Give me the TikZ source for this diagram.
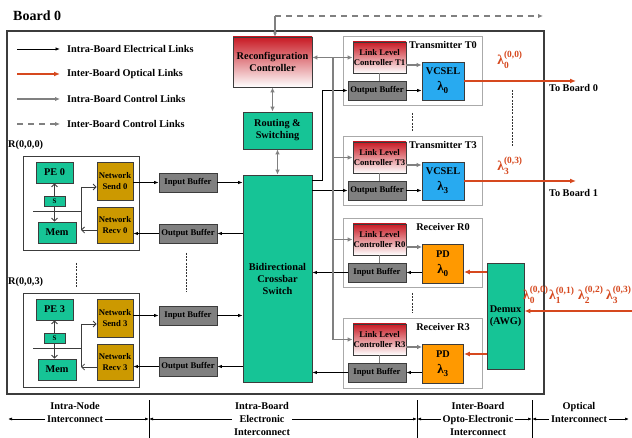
\documentclass[tikz,border=0pt]{standalone}
\usepackage{fontspec}
\setmainfont{Liberation Serif}
\usepackage{amsmath}
\usetikzlibrary{arrows.meta}

\definecolor{pegreen}{RGB}{22,196,150}
\definecolor{nigold}{RGB}{204,153,0}
\definecolor{bufgray}{RGB}{128,128,128}
\definecolor{vcblue}{RGB}{40,170,240}
\definecolor{pdorange}{RGB}{255,153,0}
\definecolor{optred}{RGB}{214,72,30}
\definecolor{ctlgray}{RGB}{128,128,128}
\definecolor{llcred}{RGB}{200,25,35}
\definecolor{edgegray}{RGB}{60,60,60}
\definecolor{unitgray}{RGB}{170,170,170}

\newcommand{\lam}[2]{$\text{λ}_{\text{#1}}^{\text{#2}}$}

\begin{document}
\begin{tikzpicture}[x=1pt,y=-1pt,
  every node/.style={inner sep=0pt, font=\bfseries},
  sz/.style 2 args={minimum width=#1pt, minimum height=#2pt},
  fbig/.style={font=\fontsize{10.3}{12}\selectfont\bfseries},
  fsmall/.style={font=\fontsize{8.7}{10.5}\selectfont\bfseries},
  blk/.style={draw=edgegray, line width=0.8pt, align=center},
  greenbox/.style={blk, fill=pegreen, fbig},
  goldbox/.style={blk, fill=nigold, fsmall},
  bufbox/.style={blk, fill=bufgray, fsmall},
  llcbox/.style={blk, top color=llcred, bottom color=white, fsmall},
  devbox/.style={blk, font=\fontsize{10.3}{16}\selectfont\bfseries},
  unitbox/.style={draw=unitgray, line width=1pt},
  elec/.style={draw=black, line width=0.8pt, -{Latex[length=4.5pt,width=3.5pt]}},
  ctrlline/.style={draw=ctlgray, line width=1.8pt},
  ctrl/.style={ctrlline, -{Latex[length=5pt,width=4.5pt]}},
  ctrlboth/.style={ctrlline, {Latex[length=5pt,width=4.5pt]}-{Latex[length=5pt,width=4.5pt]}},
  optl/.style={draw=optred, line width=1.7pt, -{Latex[length=6pt,width=5pt]}},
  interdash/.style={ctrl, dash pattern=on 6pt off 5pt},
  barb/.style={line width=0.8pt, draw=edgegray, -{Straight Barb[length=3pt,width=6pt]}},
  wire/.style={line width=0.8pt, draw=edgegray},
  dotsep/.style={line width=0.8pt, draw=black!80, dash pattern=on 2pt off 1.2pt},
  dim/.style={line width=0.7pt, {Latex[length=4pt,width=3pt]}-{Latex[length=4pt,width=3pt]}},
  lamlbl/.style={text=optred, font=\fontsize{13.5}{14}\selectfont\bfseries},
  zone/.style={fill=white, inner xsep=2pt, align=center, font=\fontsize{10.3}{13}\selectfont\bfseries}
]
\useasboundingbox (0,0) rectangle (632,438);
\fill[white] (0,0) rectangle (632,438);

% board frame and title
\node[font=\fontsize{14}{16}\selectfont\bfseries, anchor=base west] (title) at (13,21) {Board 0};
\draw[draw=edgegray, line width=1.2pt] (7,31) rectangle (544,394);

% legend
\node[fbig, anchor=west] (lg1) at (67,49) {Intra-Board Electrical Links};
\node[fbig, anchor=west] (lg2) at (67,74) {Inter-Board Optical Links};
\node[fbig, anchor=west] (lg3) at (67,99) {Intra-Board Control Links};
\node[fbig, anchor=west] (lg4) at (67,124) {Inter-Board Control Links};
\draw[elec] ([xshift=-50pt]lg1.west) -- ([xshift=-7pt]lg1.west);
\draw[optl] ([xshift=-50pt]lg2.west) -- ([xshift=-7pt]lg2.west);
\draw[ctrl] ([xshift=-50pt]lg3.west) -- ([xshift=-7pt]lg3.west);
\draw[interdash] ([xshift=-50pt]lg4.west) -- ([xshift=-7pt]lg4.west);

% central control and switching
\node[llcbox, fbig, sz={79}{50}] (reconf) at (272.5,62) {Reconfiguration\\Controller};
\node[greenbox, sz={69}{37}] (route) at (277.5,130.5) {Routing \&\\Switching};
\node[greenbox, sz={69}{207}] (xbar) at (277.5,278.5) {Bidirectional\\Crossbar\\Switch};
\draw[ctrlboth] (reconf.south) -- (reconf.south |- route.north);
\draw[ctrlboth] (route.south) -- (xbar.north);

% inter-board control link
\coordinate (ibtop) at (275,16);
\coordinate (ibend) at (543,16);
\draw[interdash] (ibtop) -- (ibend);
\draw[ctrl, -{Latex[length=4pt,width=4pt]}] (ibtop) -- (reconf.north -| ibtop);

% transmitters
\foreach \t/\c/\dy in {0/1/0, 3/3/100}{
  \node[unitbox, sz={139}{69}] (tx\t) at (412.5,71.5+\dy) {};
  \node[fbig] (txl\t) at (443,45+\dy) {Transmitter T\t};
  \node[llcbox, sz={53}{31}] (llct\t) at (379.5,57.5+\dy) {Link Level\\Controller T\c};
  \node[bufbox, sz={58}{19}] (obt\t) at (377,90.5+\dy) {Output Buffer};
  \node[devbox, fill=vcblue, sz={42}{38}] (vc\t) at (443,81+\dy)
       {VCSEL\\{\fontsize{13}{13}\selectfont\lam{\t}{}}};
  \draw[ctrlline] (llct\t.south) -- (llct\t.south |- obt\t.north);
  \draw[ctrl] (llct\t.east |- 0,65+\dy) -- (vc\t.west |- 0,65+\dy);
  \draw[elec] (obt\t.east) -- (obt\t.east -| vc\t.west);
}

% receivers
\foreach \r/\dy in {0/182, 3/282}{
  \node[unitbox, sz={139}{69}] (rx\r) at (412.5,71.5+\dy) {};
  \node[fbig] (rxl\r) at (443,45+\dy) {Receiver R\r};
  \node[llcbox, sz={53}{31}] (llcr\r) at (379.5,57.5+\dy) {Link Level\\Controller R\r};
  \node[bufbox, sz={58}{19}] (ibr\r) at (377,90.5+\dy) {Input Buffer};
  \node[devbox, fill=pdorange, sz={41}{39}] (pd\r) at (443,81.5+\dy)
       {PD\\{\fontsize{13}{13}\selectfont\lam{\r}{}}};
  \draw[ctrlline] (llcr\r.south) -- (llcr\r.south |- ibr\r.north);
  \draw[ctrl] (llcr\r.east |- 0,65+\dy) -- (pd\r.west |- 0,65+\dy);
  \draw[elec] (ibr\r.east -| pd\r.west) -- (ibr\r.east);
  \draw[elec] (ibr\r.west) -- (ibr\r.west -| xbar.east);
}

% crossbar to transmitter buffers
\coordinate (xbtap) at (322,180);
\draw[elec] (xbar.east |- xbtap) -- (xbtap) |- (obt0.west);
\draw[elec] (xbar.east |- obt3.west) -- (obt3.west);

% control distribution
\coordinate (trunk) at (333,57.5);
\draw[ctrlboth] (reconf.east |- llct0.west) -- (llct0.west);
\draw[ctrl] (trunk) |- (llcr3.west);
\draw[ctrl] (trunk |- llct3.west) -- (llct3.west);
\draw[ctrl] (trunk |- llcr0.west) -- (llcr0.west);

% optical outputs
\coordinate (out0) at (576,0);
\draw[optl] (vc0.east) -- (vc0.east -| out0);
\draw[optl] (vc3.east) -- (vc3.east -| out0);
\node[fbig] (tb0) at (573.5,88) {To Board 0};
\node[fbig] (tb1) at (573.5,193) {To Board 1};
\node[lamlbl] (l00) at (510,60) {\lam{0}{(0,0)}};
\node[lamlbl] (l33) at (510,166) {\lam{3}{(0,3)}};

% demultiplexer
\node[greenbox, sz={37}{106}] (dmx) at (505.5,316) {Demux\\(AWG)};
\coordinate (optin) at (634,311);
\draw[optl] (optin) -- (optin -| dmx.east);
\draw[optl] (dmx.west |- 0,272) -- (pd0.east |- 0,272);
\draw[optl] (dmx.west |- 0,354) -- (pd3.east |- 0,354);
\node[lamlbl, anchor=west] (in0) at (523,295) {\lam{0}{(0,0)}};
\node[lamlbl, anchor=west] (in1) at (549,295) {\lam{1}{(0,1)}};
\node[lamlbl, anchor=west] (in2) at (578,295) {\lam{2}{(0,2)}};
\node[lamlbl, anchor=west] (in3) at (606,295) {\lam{3}{(0,3)}};

% processing nodes
\foreach \k/\o/\b in {0/0/0, 3/137/133}{
  \node[fbig, anchor=west] (rl\k) at (8,145+\o) {R(0,0,\k)};
  \node[draw=edgegray, line width=0.8pt, sz={116}{94}] (nd\k) at (81,203+\o) {};
  \node[greenbox, sz={37}{21}] (pe\k) at (54.5,172.5+\o) {PE \k};
  \node[greenbox, sz={21}{10}, font=\fontsize{7}{8}\selectfont\bfseries] (s\k) at (54.5,201+\o) {S};
  \node[greenbox, sz={38}{21}] (mem\k) at (57,232.5+\o) {Mem};
  \node[goldbox, sz={36}{38}] (snd\k) at (115,181+\o) {Network\\Send \k};
  \node[goldbox, sz={36}{36}] (rcv\k) at (115,225+\o) {Network\\Recv \k};
  \node[bufbox, sz={58}{19}] (ib\k) at (188,182.5+\b) {Input Buffer};
  \node[bufbox, sz={58}{19}] (ob\k) at (188,233.5+\b) {Output Buffer};
  % local bus inside the node
  \draw[wire] (33,211+\o) -- (81,211+\o);
  \draw[wire] (81,187+\o) -- (81,230+\o);
  \draw[barb] (81,187+\o) -- (snd\k.west |- 0,187+\o);
  \draw[barb] (rcv\k.west |- 0,230+\o) -- (81,230+\o);
  \draw[barb] (s\k.north) -- (pe\k.south);
  \draw[barb] (s\k.south) -- (s\k.south |- mem\k.north);
  % links to the crossbar
  \draw[elec] (snd\k.east |- ib\k.west) -- (ib\k.west);
  \draw[elec] (ib\k.east) -- (ib\k.east -| xbar.west);
  \draw[elec] (xbar.west |- ob\k.east) -- (ob\k.east);
  \draw[elec] (ob\k.west) -- (ob\k.west -| rcv\k.east);
}

% ellipsis marks
\draw[dotsep] (412,113) -- (412,132);
\draw[dotsep] (412,293) -- (412,313);
\draw[dotsep] (512,90) -- (512,147);
\draw[dotsep] (76,263) -- (76,287);
\draw[dotsep] (186,253) -- (186,292);

% interconnect zones
\coordinate (z0) at (8,419);
\coordinate (z1) at (149,419);
\coordinate (z2) at (417,419);
\coordinate (z3) at (532,419);
\coordinate (z4) at (629,419);
\foreach \p in {z1,z2,z3}{
  \draw[line width=0.7pt] ([yshift=19pt]\p) -- ([yshift=-19pt]\p);
}
\draw[dim] (z0) -- (z1);
\draw[dim] (z1) -- (z2);
\draw[dim] (z2) -- (z3);
\draw[dim] (z3) -- (z4);
\node[zone] (zn1) at (75,412.5) {Intra-Node\\Interconnect};
\node[zone] (zn2) at (262,419) {Intra-Board\\Electronic\\Interconnect};
\node[zone] (zn3) at (478,419) {Inter-Board\\Opto-Electronic\\Interconnect};
\node[zone] (zn4) at (579,412.5) {Optical\\Interconnect};
\end{tikzpicture}
\end{document}
